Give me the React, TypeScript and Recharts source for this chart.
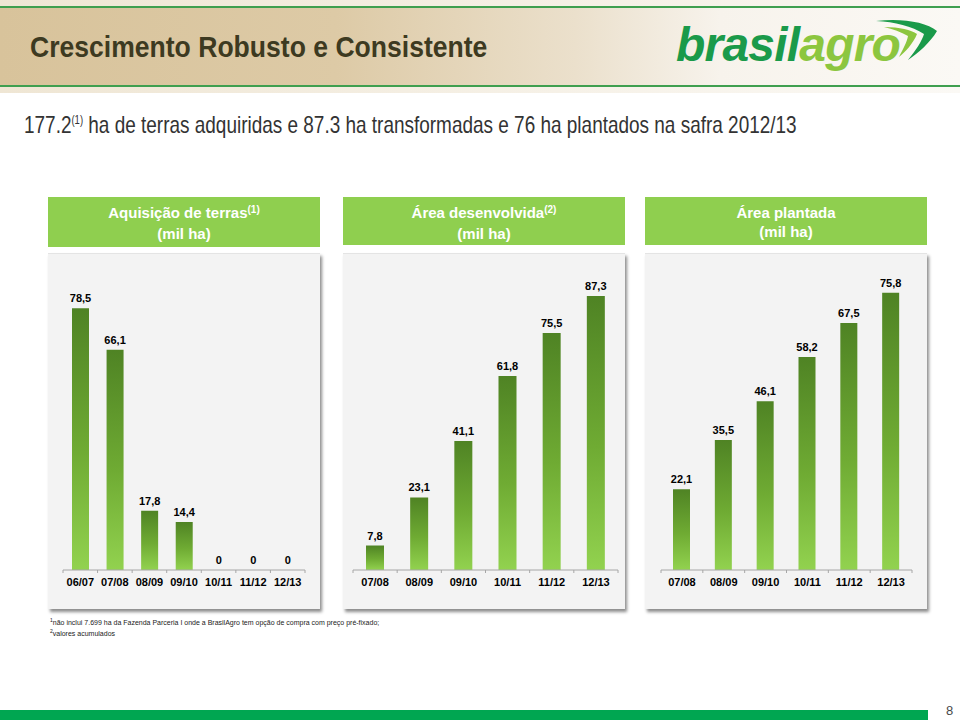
import React from 'react';
import { BarChart, Bar, XAxis, YAxis, LabelList } from 'recharts';

const acqCategories = ['06/07', '07/08', '08/09', '09/10', '10/11', '11/12', '12/13'];
const acqValues = [78.5, 66.1, 17.8, 14.4, 0, 0, 0];

const devCategories = ['07/08', '08/09', '09/10', '10/11', '11/12', '12/13'];
const devValues = [7.8, 23.1, 41.1, 61.8, 75.5, 87.3];

const plantCategories = ['07/08', '08/09', '09/10', '10/11', '11/12', '12/13'];
const plantValues = [22.1, 35.5, 46.1, 58.2, 67.5, 75.8];

const acqData = acqCategories.map((c, i) => ({ cat: c, v: acqValues[i] }));
const devData = devCategories.map((c, i) => ({ cat: c, v: devValues[i] }));
const plantData = plantCategories.map((c, i) => ({ cat: c, v: plantValues[i] }));

const FONT = '"Liberation Sans", Arial, sans-serif';

const fmt = (v: any) => String(v).replace('.', ',');

const BoundaryTick = (props: any) => {
  const { x, y, payload, index, visibleTicksCount } = props;
  const half = payload && payload.offset ? payload.offset : 0;
  const isLast = index === visibleTicksCount - 1;
  return (
    <g>
      <line x1={x - half} x2={x - half} y1={y} y2={y + 3} stroke="#a6a6a6" strokeWidth={1} />
      {isLast && <line x1={x + half} x2={x + half} y1={y} y2={y + 3} stroke="#a6a6a6" strokeWidth={1} />}
      <text x={x} y={y + 16} textAnchor="middle" fontFamily={FONT} fontSize={11} fontWeight="bold" fill="#000">
        {payload.value}
      </text>
    </g>
  );
};

type PanelProps = {
  id: string;
  left: number;
  width: number;
  data: { cat: string; v: number }[];
  max: number;
  barSize: number;
  margin: { top: number; right: number; left: number; bottom: number };
  title: string;
  sup?: string;
  headerH: number;
};

const Panel = ({ id, left, width, data, max, barSize, margin, title, sup, headerH }: PanelProps) => (
  <>
    <div
      style={{
        position: 'absolute',
        left,
        top: 197,
        width,
        height: headerH,
        background: '#8fcf4f',
        color: '#fff',
        fontFamily: FONT,
        fontWeight: 'bold',
        fontSize: 15,
        textAlign: 'center',
        lineHeight: '19px',
        paddingTop: 6,
        boxSizing: 'border-box',
      }}
    >
      <div>
        {title}
        {sup && <span style={{ fontSize: 10, position: 'relative', top: -5 }}>{sup}</span>}
      </div>
      <div>(mil ha)</div>
    </div>
    <div
      style={{
        position: 'absolute',
        left,
        top: 253,
        width,
        height: 356,
        background: '#f3f3f3',
        boxShadow: '2px 3px 3px rgba(0,0,0,0.45)',
        borderTop: '1px solid #e4e4e4',
        boxSizing: 'border-box',
      }}
    >
      <div style={{ position: 'absolute', left: 0, top: -1 }}>
        <BarChart width={width} height={357} data={data} margin={margin}>
          <defs>
            <linearGradient id={id} x1="0" y1="0" x2="0" y2="1">
              <stop offset="0%" stopColor="#4f8324" />
              <stop offset="55%" stopColor="#6fab33" />
              <stop offset="100%" stopColor="#92d24f" />
            </linearGradient>
          </defs>
          <XAxis
            dataKey="cat"
            height={30}
            axisLine={{ stroke: '#a6a6a6' }}
            tickLine={false}
            tickSize={0}
            tickMargin={0}
            interval={0}
            tick={<BoundaryTick />}
          />
          <YAxis hide domain={[0, max]} />
          <Bar dataKey="v" fill={`url(#${id})`} barSize={barSize} minPointSize={0.01} isAnimationActive={false}>
            <LabelList
              dataKey="v"
              position="top"
              offset={6}
              formatter={fmt}
              style={{ fontFamily: FONT, fontSize: 11, fontWeight: 'bold', fill: '#000' }}
            />
          </Bar>
        </BarChart>
      </div>
    </div>
  </>
);

export default function App() {
  return (
    <div style={{ position: 'absolute', left: 0, top: 0, width: 960, height: 720, background: '#fff', overflow: 'hidden', fontFamily: FONT }}>
      {/* header band */}
      <div
        style={{
          position: 'absolute',
          left: 0,
          top: 0,
          width: 960,
          height: 92,
          background: 'linear-gradient(90deg, #d8c39b 0%, #ddca a6 35%, #ebe0cc 60%, #f7f3ec 75%, #fbf9f5 100%)'.replace(' a6', 'a6'),
        }}
      />
      <div style={{ position: 'absolute', left: 0, top: 0, width: 960, height: 6, background: 'linear-gradient(90deg, #efe6d4, #faf7f1)' }} />
      <div style={{ position: 'absolute', left: 0, top: 6, width: 960, height: 2, background: '#3f9f4f' }} />
      <div style={{ position: 'absolute', left: 0, top: 85, width: 960, height: 2, background: '#3f9f4f' }} />
      <div style={{ position: 'absolute', left: 0, top: 87, width: 960, height: 6, background: 'linear-gradient(90deg, #efe6d4, #fbf9f5)' }} />
      <div
        style={{
          position: 'absolute',
          left: 30,
          top: 29,
          fontFamily: FONT,
          fontWeight: 'bold',
          fontSize: 30,
          lineHeight: '36px',
          color: '#3d3a21',
          whiteSpace: 'nowrap',
          transform: 'scaleX(0.885)',
          transformOrigin: 'left center',
        }}
      >
        Crescimento Robusto e Consistente
      </div>
      {/* logo */}
      <div
        style={{
          position: 'absolute',
          left: 676,
          top: 17,
          fontFamily: FONT,
          fontWeight: 'bold',
          fontStyle: 'italic',
          fontSize: 48,
          letterSpacing: -0.8,
          whiteSpace: 'nowrap',
          lineHeight: '56px',
        }}
      >
        <span style={{ color: '#1a9a4a' }}>brasil</span>
        <span style={{ color: '#8cc63f' }}>agro</span>
      </div>
      <svg style={{ position: 'absolute', left: 0, top: 0 }} width={960} height={100}>
        <path d="M876 21 C 902 18, 926 22, 937 31 C 930 43, 918 53, 908 60 C 916 50, 922 41, 924 34 C 912 26, 895 22, 876 21 Z" fill="#1a9a4a" />
        <path d="M884 27 C 900 27, 911 30, 917 34 C 913 44, 905 52, 899 57 C 903 49, 907 42, 908 36 C 901 32, 893 29, 884 27 Z" fill="#8cc63f" />
      </svg>
      {/* subtitle */}
      <div
        style={{
          position: 'absolute',
          left: 24,
          top: 110,
          fontFamily: FONT,
          fontSize: 24,
          lineHeight: '30px',
          color: '#333',
          whiteSpace: 'nowrap',
          transform: 'scaleX(0.79)',
          transformOrigin: 'left center',
        }}
      >
        177.2<span style={{ fontSize: 12, position: 'relative', top: -9 }}>(1)</span> ha de terras adquiridas e 87.3 ha
        transformadas e 76 ha plantados na safra 2012/13
      </div>

      <Panel
        id="g1"
        left={48}
        width={272}
        data={acqData}
        max={90}
        barSize={17}
        margin={{ top: 17, right: 15, left: 15, bottom: 10 }}
        title="Aquisição de terras"
        sup="(1)"
        headerH={50}
      />
      <Panel
        id="g2"
        left={343}
        width={282}
        data={devData}
        max={100}
        barSize={18}
        margin={{ top: 3, right: 7, left: 10, bottom: 10 }}
        title="Área desenvolvida"
        sup="(2)"
        headerH={48}
      />
      <Panel
        id="g3"
        left={645}
        width={282}
        data={plantData}
        max={85}
        barSize={17}
        margin={{ top: 6, right: 15, left: 16, bottom: 10 }}
        title="Área plantada"
        headerH={48}
      />

      {/* footnotes */}
      <div style={{ position: 'absolute', left: 50, top: 616, fontFamily: FONT, fontSize: 7, color: '#222', lineHeight: '9px' }}>
        <div>
          <sup style={{ fontSize: 5 }}>1</sup>não inclui 7.699 ha da Fazenda Parceria I onde a BrasilAgro tem opção de compra com preço pré-fixado;
        </div>
        <div>
          <sup style={{ fontSize: 5 }}>2</sup>valores acumulados
        </div>
      </div>

      {/* bottom bar */}
      <div style={{ position: 'absolute', left: 0, top: 710, width: 928, height: 10, background: '#00a651' }} />
      <div style={{ position: 'absolute', left: 946, top: 703, fontFamily: FONT, fontSize: 13, lineHeight: '16px', color: '#4a4a4a' }}>8</div>
    </div>
  );
}
